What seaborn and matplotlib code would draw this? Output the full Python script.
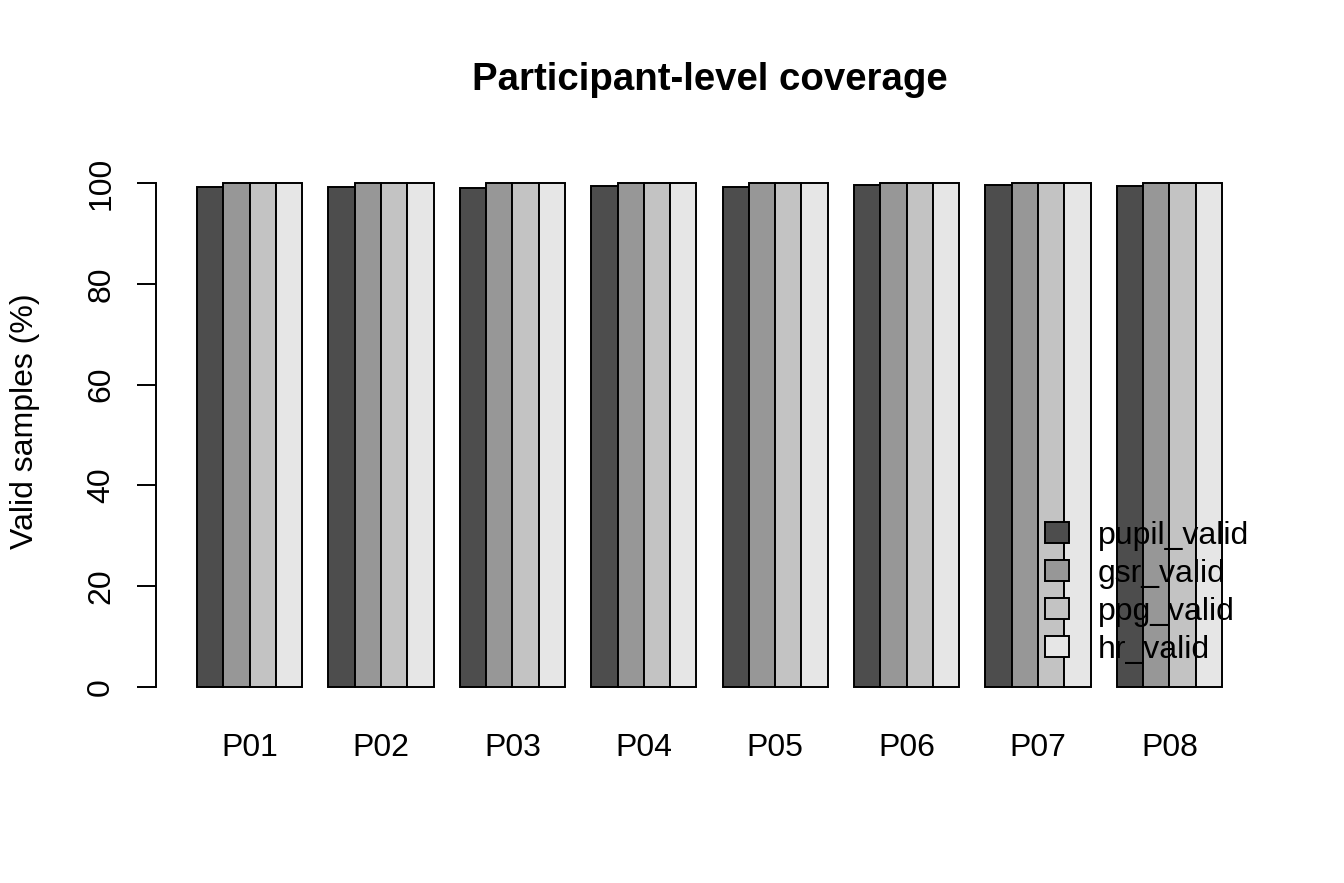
import pandas as pd
import matplotlib
matplotlib.use("Agg")
import matplotlib.pyplot as plt
from matplotlib.patches import Patch
import seaborn as sns

participants = ["P01", "P02", "P03", "P04", "P05", "P06", "P07", "P08"]
pupil_valid = [99.3, 99.2, 99.0, 99.4, 99.3, 99.6, 99.6, 99.4]
gsr_valid = [100, 100, 100, 100, 100, 100, 100, 100]
ppg_valid = [100, 100, 100, 100, 100, 100, 100, 100]
hr_valid = [100, 100, 100, 100, 100, 100, 100, 100]
signals = ["pupil_valid", "gsr_valid", "ppg_valid", "hr_valid"]
greys = ["#4D4D4D", "#979797", "#C3C3C3", "#E6E6E6"]

df = pd.DataFrame({"participant": participants, "pupil_valid": pupil_valid,
                   "gsr_valid": gsr_valid, "ppg_valid": ppg_valid, "hr_valid": hr_valid})
long = df.melt(id_vars="participant", var_name="signal", value_name="valid")

sns.set_style("white")
plt.rcParams["font.family"] = ["Liberation Sans", "DejaVu Sans"]
plt.rcParams["text.color"] = "black"
plt.rcParams["xtick.color"] = "black"
plt.rcParams["ytick.color"] = "black"
fs = 23
lw = 1.4

fig = plt.figure(figsize=(13.44, 8.83), dpi=100)
ax = fig.add_axes([156 / 1344, 1 - 707 / 883, 1107 / 1344, 544 / 883])

sns.barplot(data=long, x="participant", y="valid", hue="signal", hue_order=signals,
            palette=greys, edgecolor="black", linewidth=lw, width=0.8, saturation=1,
            legend=False, ax=ax)

ax.set_xlim(-0.712, 7.712)
ax.set_ylim(-4, 104)
ax.set_yticks([0, 20, 40, 60, 80, 100])
ax.set_yticklabels(["0", "20", "40", "60", "80", "100"], rotation=90, va="center")
ax.set_xlabel("")
ax.set_ylabel("")
for s in ["top", "right", "bottom"]:
    ax.spines[s].set_visible(False)
ax.spines["left"].set_bounds(0, 100)
ax.spines["left"].set_linewidth(lw)
ax.spines["left"].set_color("black")
ax.tick_params(axis="y", length=13.7, width=lw, color="black", pad=15, labelsize=fs,
               labelcolor="black", left=True)
ax.tick_params(axis="x", length=0, pad=19, labelsize=fs, labelcolor="black")

fig.text(710 / 1344, 1 - 80 / 883, "Participant-level coverage", ha="center", va="center",
         fontsize=27.6, fontweight="bold", color="black")
fig.text(25 / 1344, 1 - 421 / 883, "Valid samples (%)", rotation=90, ha="center", va="center",
         fontsize=fs, color="black")

handles = [Patch(facecolor=c, edgecolor="black", linewidth=lw) for c in greys]
leg = fig.legend(handles, signals, loc="upper left", bbox_to_anchor=(1045 / 1344, 1 - 521 / 883),
                 frameon=False, fontsize=fs, handlelength=0.75, handleheight=0.62,
                 handletextpad=0.9, labelspacing=0.25, borderpad=0, borderaxespad=0)
for t in leg.get_texts():
    t.set_color("black")

fig.savefig("out.png", dpi=100)
